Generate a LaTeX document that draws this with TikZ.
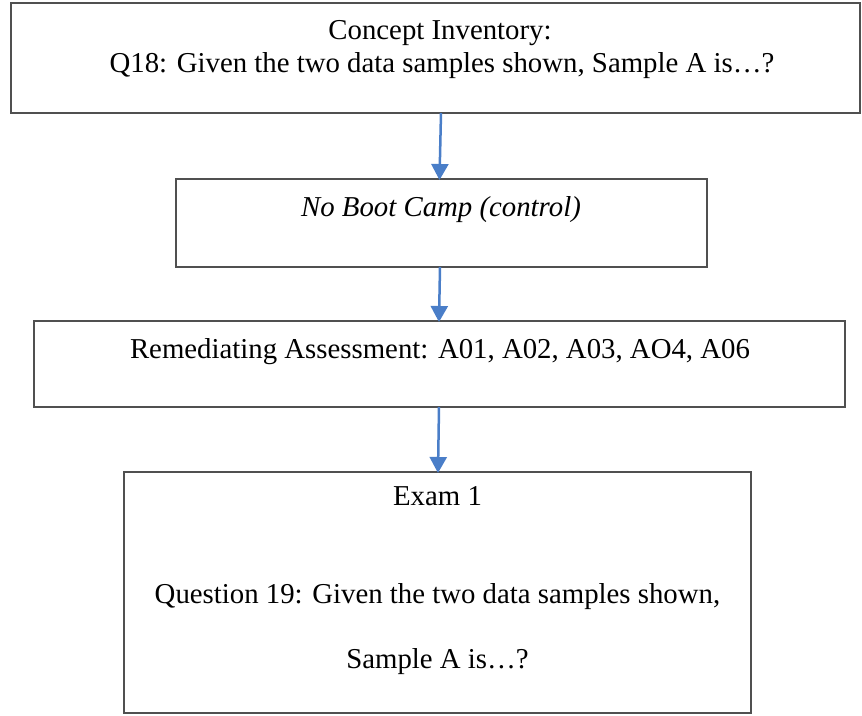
\documentclass[tikz,border=0pt]{standalone}
\usepackage{fontspec}
\setmainfont{Liberation Serif}
\usetikzlibrary{arrows.meta}
\definecolor{framegray}{HTML}{505050}
\definecolor{flowblue}{HTML}{4A7EC8}
\tikzset{
  stagebox/.style={draw=framegray, line width=2pt, fill=white, inner sep=0pt, outer sep=0pt},
  caption/.style={font=\fontsize{28.8}{33}\selectfont, inner sep=0pt, anchor=base},
  flow/.style={draw=flowblue, line width=2.5pt, -{Triangle[length=16pt,width=17pt]}, shorten >=-1pt}
}
\begin{document}
\begin{tikzpicture}[x=1pt,y=-1pt]
  \useasboundingbox (0,0) rectangle (862,715);

  % frames of the four stages
  \node[stagebox, minimum width=849pt, minimum height=110pt] (ci) at (435.5,58) {};
  \node[stagebox, minimum width=531pt, minimum height=88pt] (nb) at (441.5,223) {};
  \node[stagebox, minimum width=811pt, minimum height=86pt] (ra) at (439.5,364) {};
  \node[stagebox, minimum width=627pt, minimum height=241pt] (ex) at (437.5,592.5) {};

  % texts
  \node[caption] (ci1) at (440,39) {Concept Inventory:};
  \node[caption] (ci2) at (442,72) {Q18: Given the two data samples shown, Sample A is\dots?};
  \node[caption, font=\fontsize{28.8}{33}\selectfont\itshape] (nb1) at (441,216) {No Boot Camp (control)};
  \node[caption] (ra1) at (440,358) {Remediating Assessment: A01, A02, A03, AO4, A06};
  \node[caption] (ex1) at (437.5,505) {Exam 1};
  \node[caption] (ex2) at (437.5,603) {Question 19: Given the two data samples shown,};
  \node[caption] (ex3) at (437.5,668) {Sample A is\dots?};

  % connectors
  \draw[flow] (ci.south -| 441,0) -- (nb.north -| 439.5,0);
  \draw[flow] (nb.south -| 440,0) -- (ra.north -| 439,0);
  \draw[flow] (ra.south -| 439,0) -- (ex.north -| 438,0);
\end{tikzpicture}
\end{document}
